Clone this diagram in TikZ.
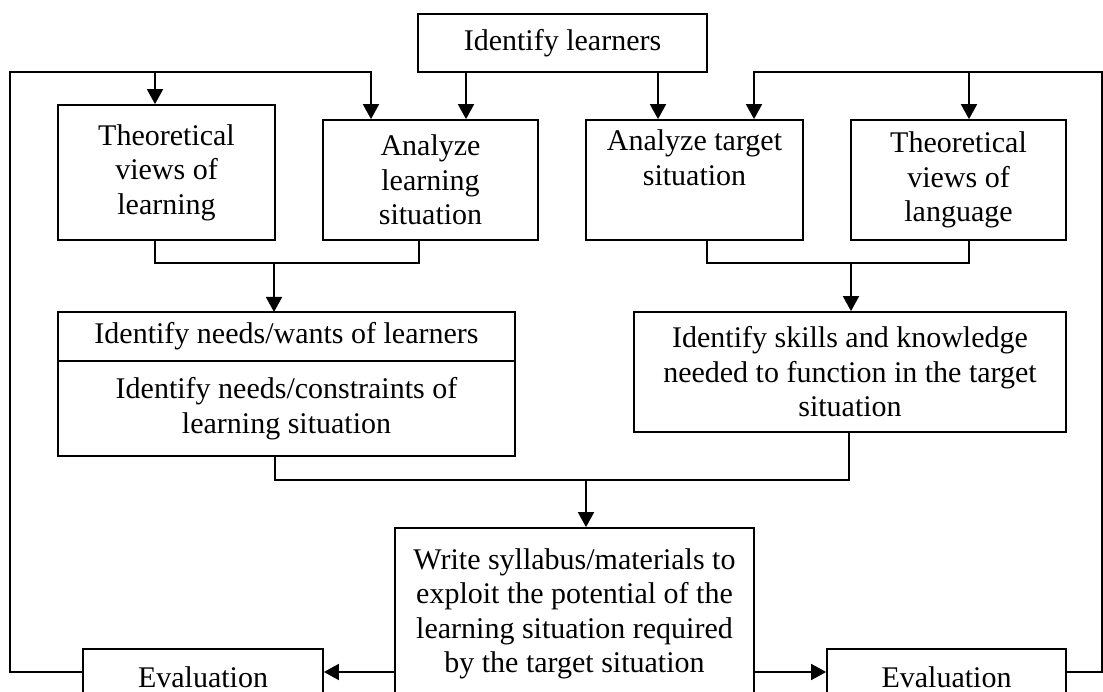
\documentclass[tikz,border=0pt]{standalone}
\usepackage{fontspec}
\setmainfont{Liberation Serif}
\usetikzlibrary{positioning,arrows.meta}
\begin{document}
\begin{tikzpicture}[x=1pt,y=-1pt]
\tikzset{
box node/.style={rectangle,draw,line width=1.75pt,inner sep=0pt,align=center,font=\fontsize{30}{34.5}\selectfont},
flow line/.style={line width=1.75pt},
flow arrow/.style={line width=1.75pt,-{Triangle[length=15pt,width=16pt]}}
}
\useasboundingbox (0,0) rectangle (1103,692);
\clip (0,0) rectangle (1103,692);

\node(learners)[box node,minimum width=289pt,minimum height=58pt] at (562.5,43) {Identify learners};
\node(theolearn)[box node,minimum width=217pt,minimum height=135pt] at (166.5,172.5) {Theoretical\\views of\\learning};
\node(analearn)[box node,minimum width=215pt,minimum height=120pt] at (430.5,180) {Analyze\\learning\\situation};
\node(anatarget)[box node,minimum width=217pt,minimum height=120pt] at (694.5,180) {Analyze target\\situation\\\strut};
\node(theolang)[box node,minimum width=215pt,minimum height=120pt] at (958.5,180) {Theoretical\\views of\\language};
\node(needsA)[box node,outer sep=0pt,minimum width=457pt,minimum height=49pt] at (286.5,336.5) {Identify needs/wants of learners};
\node(needsB)[box node,outer sep=0pt,minimum width=457pt,minimum height=95pt,below=0pt of needsA] {Identify needs/constraints of\\learning situation};
\node(skills)[box node,minimum width=432pt,minimum height=120pt] at (850,372) {Identify skills and knowledge\\needed to function in the target\\situation};
\node(write)[box node,minimum width=359pt,minimum height=172pt] at (574.5,614) {Write syllabus/materials to\\exploit the potential of the\\learning situation required\\by the target situation};
\node(evalL)[box node,minimum width=240pt,minimum height=56pt] at (203,677) {Evaluation};
\node(evalR)[box node,minimum width=239pt,minimum height=56pt] at (946.5,677) {Evaluation};

\coordinate (loopL) at (10,72);
\coordinate (loopR) at (1102,72);
\coordinate (joinL) at (274,263);
\coordinate (joinR) at (851,263);
\coordinate (joinB) at (586,480);

% feedback loops
\draw[flow arrow] (evalL.west |- 0,672) -| (loopL) -| (analearn.north -| 371,0);
\draw[flow arrow] (loopL -| 155,0) -- (theolearn.north -| 155,0);
\draw[flow arrow] (evalR.east |- 0,672) -| (loopR) -| (anatarget.north -| 754,0);
\draw[flow arrow] (loopR -| 969,0) -- (theolang.north -| 969,0);

\draw[flow arrow] (learners.south -| 466,0) -- (analearn.north -| 466,0);
\draw[flow arrow] (learners.south -| 658,0) -- (anatarget.north -| 658,0);

% joins
\draw[flow line] (theolearn.south -| 155,0) |- (joinL) -| (analearn.south -| 419,0);
\draw[flow arrow] (joinL) -- (needsA.north -| joinL);
\draw[flow line] (anatarget.south -| 707,0) |- (joinR) -| (theolang.south -| 969,0);
\draw[flow arrow] (joinR) -- (skills.north -| joinR);
\draw[flow line] (needsB.south -| 275,0) |- (joinB) -| (skills.south -| 849,0);
\draw[flow arrow] (joinB) -- (write.north -| joinB);

\draw[flow arrow] (write.west |- 0,672) -- (evalL.east |- 0,672);
\draw[flow arrow] (write.east |- 0,672) -- (evalR.west |- 0,672);
\end{tikzpicture}
\end{document}
